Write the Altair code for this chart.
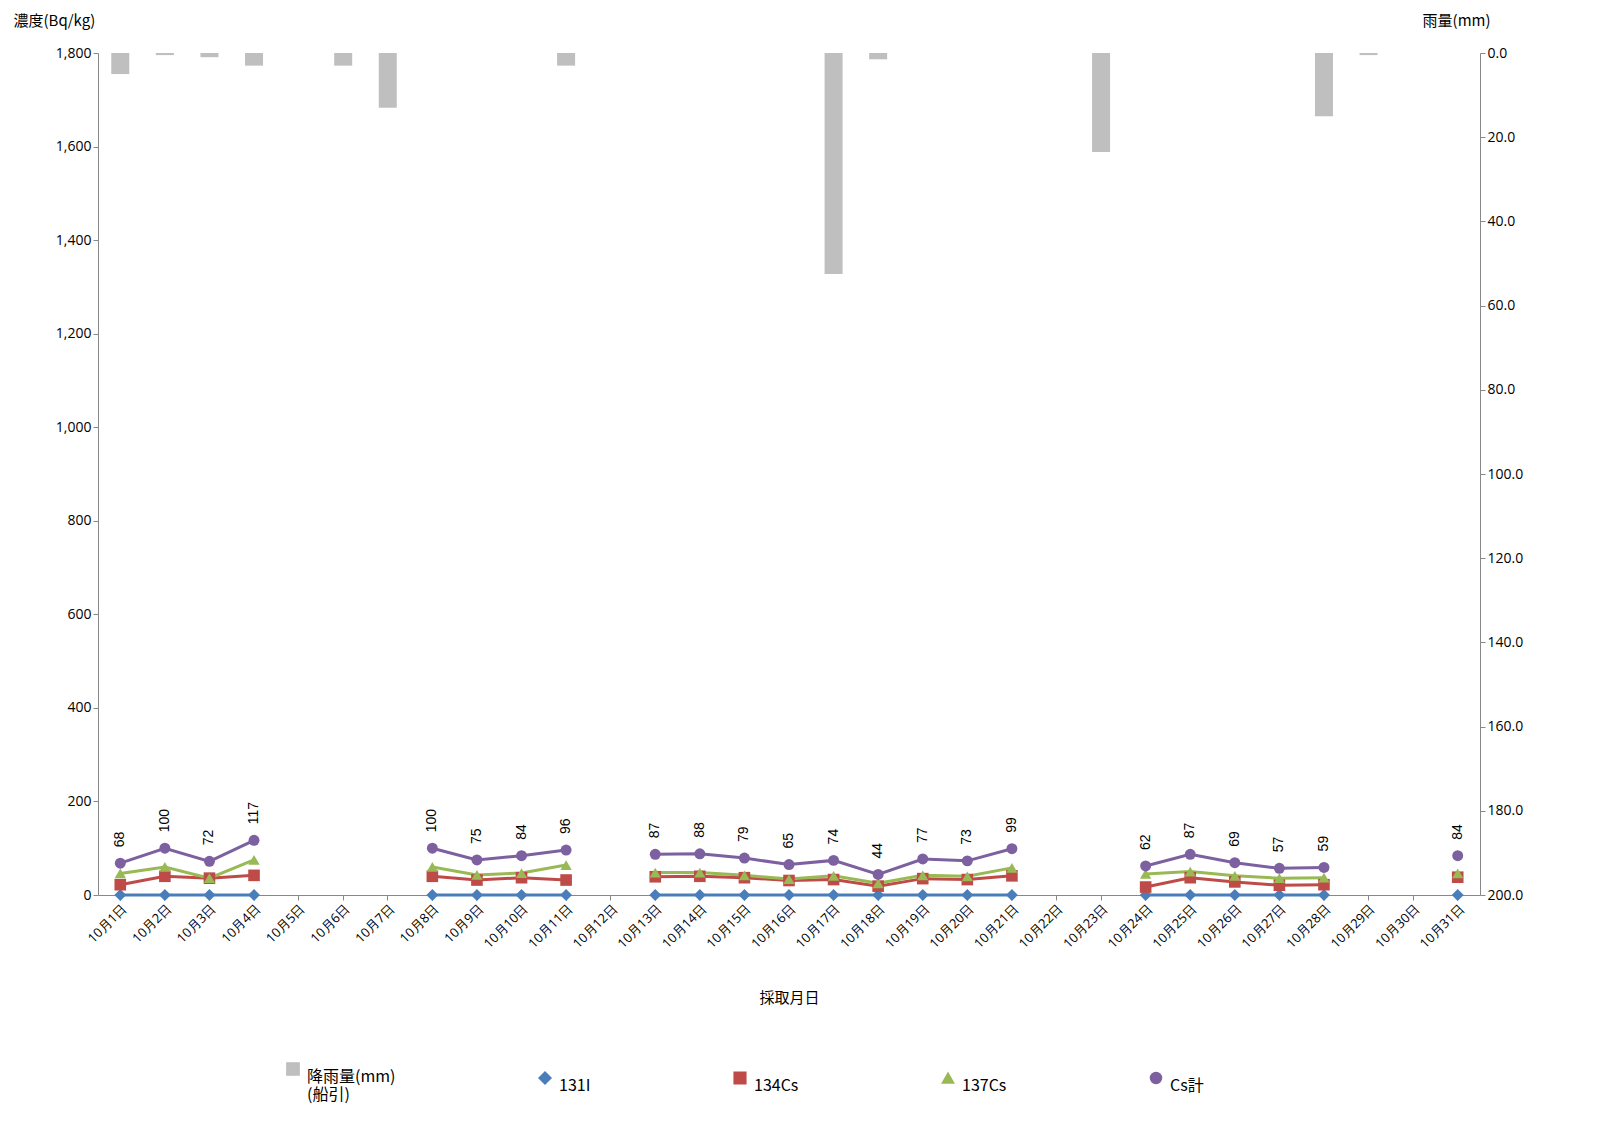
import altair as alt
import pandas as pd

days = [f"10月{d}日" for d in range(1, 32)]
meas_days = [1,2,3,4,8,9,10,11,13,14,15,16,17,18,19,20,21,24,25,26,27,28,31]
cs_total = [68,100,72,117,100,75,84,96,87,88,79,65,74,44,77,73,99,62,87,69,57,59,84]
cs134 = [22,40,36,42,40,32,37,32,39,40,37,31,33,19,35,33,41,17,37,28,21,22,38]
cs137 = [46,60,36,75,60,43,47,64,48,48,42,34,41,25,42,40,58,45,50,41,36,37,46]
i131 = [0]*23
rain_days = [1,2,3,4,6,7,11,17,18,23,28,29]
rain_vals = [5.0,0.5,1.0,3.0,3.0,13.0,3.0,52.5,1.5,23.5,15.0,0.5]

series = ["降雨量(mm)", "131I", "134Cs", "137Cs", "Cs計"]
colors = ["#bfbfbf", "#4a7ebb", "#be4b48", "#98b954", "#7d60a0"]
shapes = ["square", "diamond", "square", "triangle-up", "circle"]

rows = []
for name, vals in [("131I", i131), ("134Cs", cs134), ("137Cs", cs137), ("Cs計", cs_total)]:
    m = dict(zip(meas_days, vals))
    for d in range(1, 32):
        rows.append({"day": days[d-1], "series": name, "v": m.get(d)})
df = pd.DataFrame(rows)
rain = pd.DataFrame({"day": [days[d-1] for d in rain_days], "rain": rain_vals})

x = alt.X("day:N", sort=days, title="採取月日", scale=alt.Scale(domain=days),
          axis=alt.Axis(labelAngle=-45, labelFontSize=13, titleFontSize=15, titleFontWeight="normal",
                        titlePadding=40, domainColor="#888", tickColor="#888", labelColor="#000"))
leg = alt.Legend(orient="none", legendX=187, legendY=1008, title=None, direction="horizontal", columns=5,
                 labelFontSize=16, symbolSize=170, columnPadding=140, labelBaseline="top", labelOffset=6,
                 labelExpr="datum.label == '降雨量(mm)' ? ['降雨量(mm)','(船引)'] : datum.label")
color = alt.Color("series:N", scale=alt.Scale(domain=series, range=colors), legend=leg)
shape = alt.Shape("series:N", scale=alt.Scale(domain=series, range=shapes), legend=leg)

bars = alt.Chart(rain).mark_bar(color="#bfbfbf", size=18).encode(
    x=x,
    y=alt.Y("rain:Q", scale=alt.Scale(domain=[0, 200], reverse=True),
            axis=alt.Axis(orient="right", title="雨量(mm)", format=".1f", values=list(range(0,201,20)),
                          titleAngle=0, titleAnchor="end", titleAlign="right", titleY=-25, titleX=10,
                          titleFontSize=15, titleFontWeight="normal", labelFontSize=14, grid=False,
                          domainColor="#888", tickColor="#888")),
)

yax = alt.Y("v:Q", scale=alt.Scale(domain=[0, 1800]),
            axis=alt.Axis(title="濃度(Bq/kg)", format=",.0f", values=list(range(0,1801,200)),
                          titleAngle=0, titleAnchor="start", titleAlign="left", titleY=-25, titleX=-85,
                          titleFontSize=15, titleFontWeight="normal", labelFontSize=14,
                          gridColor="#999", domainColor="#888", tickColor="#888"))
base = alt.Chart(df).encode(x=x, y=yax)
lines = base.mark_line(strokeWidth=3).encode(color=color)
pts = base.transform_filter("datum.v != null").mark_point(filled=True, opacity=1).encode(
    color=color, shape=shape,
    size=alt.Size("series:N", scale=alt.Scale(domain=series, range=[150, 120, 120, 140, 300]), legend=None),
)
labels = base.transform_filter("datum.series == 'Cs計' && datum.v != null").mark_text(
    angle=270, align="left", baseline="middle", dx=16, fontSize=14, color="#000").encode(text="v:Q")

left = alt.layer(lines, pts, labels)
chart = alt.layer(bars, left).resolve_scale(y="independent").properties(
    width=1382, height=842
).configure_view(stroke=None).configure_axis(labelFont="Open Sans", titleFont="Noto Sans CJK JP"
).configure_legend(labelFont="Noto Sans CJK JP")
chart.save("out.html", embed_options={"renderer": "svg", "actions": False})
